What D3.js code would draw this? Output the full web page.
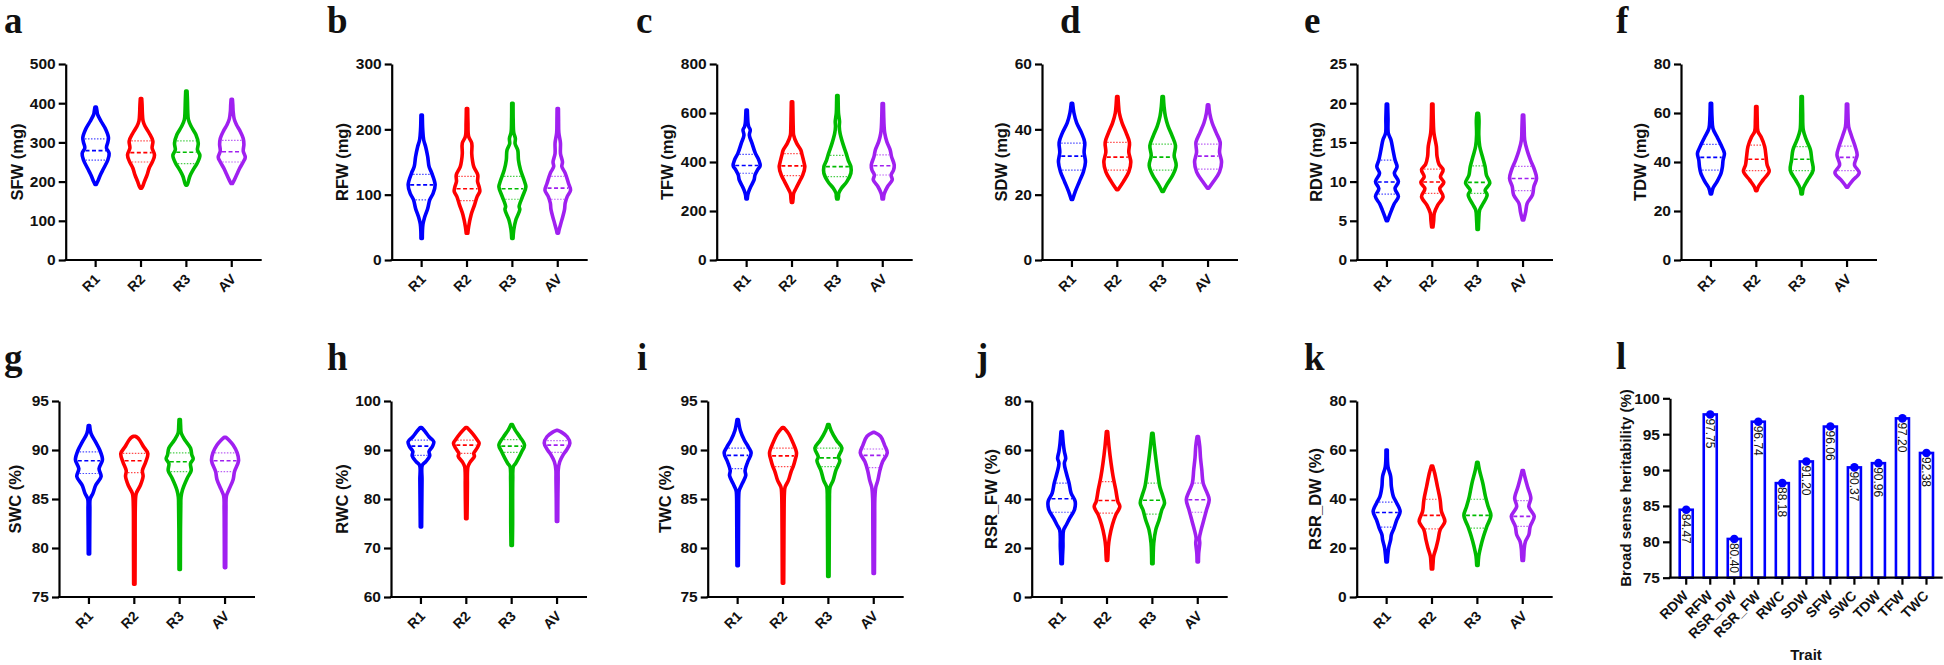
<!DOCTYPE html>
<html><head><meta charset="utf-8">
<script src="https://cdn.jsdelivr.net/npm/d3@7"></script>
<style>
body{margin:0;background:#fff}
text{font-family:"Liberation Sans",Arial,sans-serif}
text.letter{font-family:"Liberation Serif","Times New Roman","DejaVu Serif",serif}
</style>
</head><body>
<svg id="chart" width="1944" height="665"></svg>
<script>
// ---------------- DATA ----------------
const groups = ["R1", "R2", "R3", "AV"];

// violin outlines: [value, relative density] from min to max
const sfwProfiles = [
  [[193,0.05],[200,0.15],[217,0.35],[234,0.6],[255,0.9],[272,1.0],[286,0.8],[300,0.9],[312,0.95],[333,0.75],[354,0.4],[371,0.15],[380,0.1],[390,0.05]],
  [[183,0.05],[190,0.15],[200,0.25],[217,0.45],[234,0.6],[251,0.85],[268,1.0],[286,0.82],[303,0.88],[324,0.6],[341,0.3],[355,0.15],[375,0.1],[395,0.08],[412,0.05]],
  [[191,0.05],[197,0.12],[213,0.25],[230,0.5],[247,0.8],[267,1.0],[281,0.82],[298,0.88],[320,0.7],[341,0.35],[358,0.15],[380,0.1],[405,0.08],[431,0.05]],
  [[195,0.05],[205,0.2],[220,0.4],[235,0.6],[250,0.85],[262,1.0],[278,0.85],[295,0.9],[310,0.85],[330,0.6],[345,0.35],[360,0.18],[380,0.1],[395,0.08],[410,0.05]]
];
const sfwQuartiles = [[255,279,309],[250,274,304],[246,275,304],[250,276,305]];
const sfwTicks = [0,100,200,300,400,500];

const rfwProfiles = [
  [[33,0.05],[45,0.06],[55,0.1],[64,0.2],[79,0.45],[92,0.6],[102,0.85],[115,1.0],[133,0.75],[143,0.55],[158,0.45],[173,0.3],[184,0.15],[200,0.08],[222,0.05]],
  [[41,0.06],[51,0.12],[69,0.3],[84,0.55],[97,0.75],[105,0.95],[112,0.9],[120,0.78],[130,0.8],[143,0.5],[153,0.4],[163,0.35],[179,0.35],[189,0.12],[210,0.07],[232,0.05]],
  [[33,0.05],[46,0.1],[61,0.25],[77,0.55],[82,0.5],[97,0.75],[112,1.0],[120,0.9],[138,0.6],[153,0.45],[168,0.4],[178,0.2],[186,0.22],[195,0.1],[215,0.06],[240,0.05]],
  [[41,0.05],[46,0.1],[61,0.3],[77,0.5],[87,0.55],[97,0.7],[107,0.95],[117,0.8],[133,0.55],[143,0.3],[150,0.35],[163,0.2],[179,0.2],[195,0.08],[215,0.06],[232,0.05]]
];
const rfwQuartiles = [[92,115,131],[91,109,128],[93,109,128],[93,110,128]];
const rfwTicks = [0,100,200,300];

const tfwProfiles = [
  [[249,0.05],[265,0.08],[279,0.15],[299,0.3],[327,0.55],[347,0.62],[367,0.8],[385,1.0],[408,0.9],[435,0.65],[476,0.4],[510,0.2],[531,0.27],[545,0.15],[558,0.1],[585,0.07],[612,0.05]],
  [[235,0.05],[250,0.08],[272,0.12],[293,0.3],[320,0.55],[347,0.8],[381,0.95],[395,0.9],[429,0.75],[449,0.65],[476,0.35],[510,0.12],[540,0.09],[590,0.07],[646,0.05]],
  [[249,0.05],[260,0.08],[272,0.1],[293,0.3],[320,0.7],[354,1.0],[381,1.0],[408,0.8],[435,0.65],[476,0.4],[517,0.2],[545,0.14],[565,0.16],[600,0.08],[640,0.06],[671,0.05]],
  [[249,0.05],[262,0.08],[272,0.12],[299,0.35],[327,0.7],[347,0.62],[367,0.8],[388,0.85],[422,0.65],[449,0.55],[483,0.3],[517,0.15],[545,0.1],[590,0.07],[639,0.05]]
];
const tfwQuartiles = [[354,386,431],[344,384,434],[340,381,427],[347,385,429]];
const tfwTicks = [0,200,400,600,800];

const sdwProfiles = [
  [[18.5,0.05],[21,0.25],[24,0.55],[27,0.85],[30,1.0],[33,0.9],[36,0.95],[39,0.7],[42,0.35],[45,0.15],[48,0.05]],
  [[21.5,0.05],[24,0.45],[27,0.85],[30,1.0],[33,0.85],[36,0.9],[39,0.65],[42,0.35],[45,0.15],[48,0.08],[50,0.05]],
  [[21,0.05],[23,0.3],[26,0.75],[29,1.0],[32,0.85],[35,0.95],[38,0.7],[41,0.4],[44,0.2],[47,0.1],[50,0.05]],
  [[22,0.05],[24,0.4],[27,0.85],[30,1.0],[33,0.85],[36,0.9],[39,0.6],[42,0.3],[45,0.12],[47.5,0.05]]
];
const sdwQuartiles = [[27.5,31.8,35.8],[27.5,31.5,36],[27.5,31.5,35.5],[27.8,31.8,35.5]];
const sdwTicks = [0,20,40,60];

const rdwProfiles = [
  [[5,0.05],[5.5,0.15],[6.4,0.35],[7.2,0.55],[8.1,0.85],[9.1,0.6],[10,0.85],[11.05,0.55],[11.9,0.75],[12.75,0.6],[14,0.45],[15.3,0.3],[16.2,0.1],[18,0.08],[19.9,0.05]],
  [[4.2,0.05],[5,0.1],[6,0.15],[7,0.4],[8.1,0.8],[9.1,0.55],[9.9,0.85],[10.6,0.6],[11.5,0.8],[12.2,0.5],[13.2,0.35],[14.5,0.3],[16.2,0.12],[18,0.07],[19.9,0.05]],
  [[3.9,0.05],[5.1,0.08],[6.4,0.15],[7.2,0.4],[8.3,0.7],[8.9,0.55],[9.8,0.9],[10.8,0.65],[11.9,0.55],[13.2,0.35],[14.5,0.15],[16,0.08],[17.8,0.1],[18.7,0.06]],
  [[5.1,0.05],[5.8,0.15],[6.2,0.2],[7.2,0.3],[8.3,0.7],[9.35,0.8],[10.4,1.0],[11.5,0.85],[12.75,0.55],[14,0.3],[15.3,0.12],[17,0.08],[18.5,0.05]]
];
const rdwQuartiles = [[8.4,9.95,12.75],[8.5,9.95,11.6],[8.5,9.9,12.0],[8.85,10.4,11.95]];
const rdwTicks = [0,5,10,15,20,25];

const tdwProfiles = [
  [[27,0.05],[29.3,0.15],[32,0.45],[35.4,0.75],[38.1,0.85],[40.8,0.9],[43.5,1.0],[46.9,0.75],[50.3,0.45],[53.7,0.15],[58,0.08],[64,0.05]],
  [[28.3,0.05],[29.9,0.15],[32.7,0.5],[36.1,0.95],[38.8,0.8],[42.2,0.72],[46.3,0.62],[50.3,0.35],[52.5,0.12],[57,0.07],[62.6,0.05]],
  [[27,0.05],[29.3,0.12],[32.7,0.45],[36.7,0.85],[40.8,0.75],[44.9,0.65],[49,0.35],[53,0.12],[60,0.07],[66.7,0.05]],
  [[29.7,0.05],[30.6,0.15],[32.7,0.45],[35.6,0.9],[38.8,0.55],[42.9,0.75],[46.3,0.6],[50.3,0.35],[54.4,0.12],[59,0.07],[63.7,0.05]]
];
const tdwQuartiles = [[36.7,41.9,47.2],[36.5,41.1,46.9],[36.5,41.1,46.3],[36.5,41.9,46.5]];
const tdwTicks = [0,20,40,60,80];

const swcProfiles = [
  [[79.4,0.05],[82,0.06],[84,0.07],[85,0.09],[85.6,0.3],[86.4,0.5],[87.3,0.9],[88.1,0.75],[89,1.0],[90,0.8],[90.8,0.5],[91.7,0.15],[92.5,0.05]],
  [[76.3,0.05],[80,0.06],[84,0.07],[85.2,0.1],[85.6,0.15],[86.4,0.45],[87.3,0.65],[87.9,0.6],[88.8,0.85],[89.65,1.0],[90.3,0.7],[91,0.4],[91.3,0.2],[91.4,0.05]],
  [[77.8,0.05],[82,0.06],[84.3,0.08],[85.2,0.1],[85.9,0.2],[87.1,0.55],[87.9,0.85],[88.6,0.8],[89.1,1.0],[89.5,0.9],[90.2,0.8],[91,0.4],[91.7,0.12],[92.5,0.07],[93.1,0.05]],
  [[78,0.05],[82,0.06],[84,0.07],[85.3,0.1],[86,0.3],[87,0.6],[87.8,0.7],[88.9,1.0],[89.7,0.9],[90.5,0.6],[91,0.3],[91.3,0.05]]
];
const swcQuartiles = [[87.6,88.9,89.8],[87.7,88.9,89.65],[87.8,88.8,89.7],[87.8,88.9,89.7]];
const swcTicks = [75,80,85,90,95];

const rwcProfiles = [
  [[74.3,0.05],[78,0.06],[81,0.07],[84,0.08],[86.9,0.1],[87.6,0.35],[88.8,0.65],[89.7,0.6],[90.7,0.85],[91.7,0.95],[92.7,0.6],[93.8,0.3],[94.6,0.05]],
  [[76,0.05],[80,0.07],[83,0.08],[85,0.08],[86.6,0.12],[87.6,0.3],[88.7,0.6],[89.3,0.55],[90.4,0.8],[91.4,0.95],[92.1,0.8],[93.4,0.45],[94.6,0.05]],
  [[70.5,0.05],[75,0.07],[80,0.07],[84,0.08],[86.6,0.12],[87.3,0.3],[88.3,0.5],[89.7,0.75],[91,0.95],[92.7,0.6],[94.1,0.25],[95.2,0.05]],
  [[75.4,0.05],[80,0.06],[84,0.08],[86,0.09],[87.6,0.2],[89,0.45],[90,0.7],[91.4,0.95],[92.7,0.75],[93.6,0.35],[94,0.05]]
];
const rwcQuartiles = [[88.9,90.8,92.0],[89.3,91.0,92.0],[89.5,90.8,92.1],[89.5,91.0,91.9]];
const rwcTicks = [60,70,80,90,100];

const twcProfiles = [
  [[78.2,0.05],[81,0.06],[84,0.07],[85.3,0.08],[85.9,0.12],[86.6,0.35],[87.4,0.6],[87.9,0.55],[88.8,0.75],[89.7,1.0],[90.3,0.8],[91,0.5],[92,0.2],[93.1,0.05]],
  [[76.4,0.05],[79,0.06],[82,0.07],[84,0.08],[85.5,0.1],[86.2,0.15],[86.9,0.4],[87.8,0.6],[88.3,0.75],[89,0.9],[89.7,1.0],[90.7,0.75],[91.7,0.4],[92.3,0.05]],
  [[77.1,0.05],[80,0.06],[83,0.07],[85,0.08],[86.2,0.12],[86.9,0.35],[87.9,0.55],[88.9,0.85],[89.3,0.75],[90.2,1.0],[91,0.6],[92,0.2],[92.6,0.05]],
  [[77.4,0.05],[80,0.06],[83,0.07],[85,0.08],[86.2,0.15],[86.9,0.3],[87.9,0.45],[88.8,0.65],[89.7,1.0],[90.5,0.8],[91.4,0.5],[91.8,0.05]]
];
const twcQuartiles = [[88.1,89.45,90.2],[88.3,89.4,90.2],[88.3,89.2,90.2],[88.2,89.45,90.1]];
const twcTicks = [75,80,85,90,95];

const rsrfwProfiles = [
  [[13.6,0.05],[17,0.07],[20.6,0.1],[24,0.1],[27.4,0.15],[29.5,0.35],[32.2,0.6],[35.6,0.95],[39,1.0],[42.4,0.7],[46.5,0.55],[50.5,0.35],[54.6,0.2],[56.6,0.3],[59.4,0.2],[62.7,0.12],[67.5,0.05]],
  [[14.9,0.05],[18,0.08],[20.6,0.1],[24.7,0.2],[29.5,0.4],[33.5,0.65],[36.9,0.95],[39,0.8],[43.7,0.65],[49.2,0.45],[54.6,0.3],[61.4,0.15],[67.5,0.05]],
  [[13.6,0.05],[17,0.06],[22,0.1],[27.4,0.25],[31.5,0.5],[35.6,0.7],[38.3,0.9],[42.4,0.7],[45.1,0.55],[50.5,0.4],[54.6,0.3],[61.4,0.15],[66.8,0.05]],
  [[14.3,0.05],[17.9,0.07],[22,0.15],[24,0.12],[27.4,0.25],[31.5,0.45],[35.6,0.65],[39.7,0.85],[42.4,0.7],[46.5,0.4],[51.9,0.3],[57,0.2],[61.4,0.15],[65.5,0.05]]
];
const rsrfwQuartiles = [[34.6,40.1,46.5],[34.2,39.4,47.1],[33.8,39.5,46.5],[34.6,39.7,46.5]];
const rsrfwTicks = [0,20,40,60,80];

const rsrdwProfiles = [
  [[14.3,0.05],[16.6,0.08],[20,0.15],[23.4,0.3],[25.4,0.35],[28.1,0.55],[31.5,0.75],[34.9,1.0],[38.3,0.75],[41,0.5],[45.1,0.35],[49.2,0.3],[53.2,0.1],[60,0.05]],
  [[11.4,0.05],[14,0.08],[16.6,0.12],[20,0.3],[23.4,0.45],[27.4,0.6],[30.8,0.95],[34.9,0.7],[39.7,0.6],[45.1,0.4],[50.5,0.2],[53.5,0.05]],
  [[12.9,0.05],[16.6,0.1],[20.6,0.25],[24.7,0.45],[28.8,0.7],[33.3,1.0],[36.9,0.8],[41,0.6],[46.5,0.4],[51.9,0.15],[55,0.05]],
  [[14.9,0.05],[17,0.08],[19.3,0.1],[22.7,0.2],[25.4,0.45],[28.8,0.55],[32.9,0.85],[36.9,0.45],[40.3,0.6],[45.1,0.35],[49.2,0.15],[51.6,0.05]]
];
const rsrdwQuartiles = [[28.5,34.5,38.7],[27.8,33.3,39.9],[28.1,33.3,39.9],[28.8,32.9,39.3]];
const rsrdwTicks = [0,20,40,60,80];

const traits = ["RDW","RFW","RSR_DW","RSR_FW","RWC","SDW","SFW","SWC","TDW","TFW","TWC"];
const heritability = [84.47,97.75,80.40,96.74,88.18,91.20,96.06,90.37,90.96,97.20,92.38];
const heritTicks = [75,80,85,90,95,100];

// ---------------- STYLE / LAYOUT ----------------
const groupColors = ["#0000ff","#ff0000","#00bb00","#a020f0"];
const HW = 13.5;           // max half width of a violin (px)
const AXIS_W = 196;        // x axis length per violin panel
const rows = [{top:64, bottom:260, letterY:33}, {top:401, bottom:597, letterY:370}];

const panels = [
  {letter:"a", title:"SFW (mg)",    prof:sfwProfiles,   q:sfwQuartiles,   ticks:sfwTicks,   row:0, ax:65.7,  lx:4,    toff:49},
  {letter:"b", title:"RFW (mg)",    prof:rfwProfiles,   q:rfwQuartiles,   ticks:rfwTicks,   row:0, ax:391.7, lx:327,  toff:50},
  {letter:"c", title:"TFW (mg)",    prof:tfwProfiles,   q:tfwQuartiles,   ticks:tfwTicks,   row:0, ax:716.7, lx:636,  toff:50},
  {letter:"d", title:"SDW (mg)",    prof:sdwProfiles,   q:sdwQuartiles,   ticks:sdwTicks,   row:0, ax:1042,  lx:1060, toff:41},
  {letter:"e", title:"RDW (mg)",    prof:rdwProfiles,   q:rdwQuartiles,   ticks:rdwTicks,   row:0, ax:1357,  lx:1304, toff:41},
  {letter:"f", title:"TDW (mg)",    prof:tdwProfiles,   q:tdwQuartiles,   ticks:tdwTicks,   row:0, ax:1681,  lx:1616, toff:41},
  {letter:"g", title:"SWC (%)",     prof:swcProfiles,   q:swcQuartiles,   ticks:swcTicks,   row:1, ax:59,    lx:4,    toff:44},
  {letter:"h", title:"RWC (%)",     prof:rwcProfiles,   q:rwcQuartiles,   ticks:rwcTicks,   row:1, ax:391,   lx:327,  toff:49},
  {letter:"i", title:"TWC (%)",     prof:twcProfiles,   q:twcQuartiles,   ticks:twcTicks,   row:1, ax:707.7, lx:637,  toff:43},
  {letter:"j", title:"RSR_FW (%)",  prof:rsrfwProfiles, q:rsrfwQuartiles, ticks:rsrfwTicks, row:1, ax:1031.7,lx:976,  toff:41},
  {letter:"k", title:"RSR_DW (%)",  prof:rsrdwProfiles, q:rsrdwQuartiles, ticks:rsrdwTicks, row:1, ax:1356.7,lx:1304, toff:42}
];

const svg = d3.select("#chart");

function densAt(prof, v){
  for (let i = 0; i < prof.length - 1; i++){
    const a = prof[i], b = prof[i+1];
    if (v >= a[0] && v <= b[0]){
      const t = (v - a[0]) / (b[0] - a[0]);
      return a[1] + (b[1] - a[1]) * t;
    }
  }
  return 0;
}

function panelLetter(x, y, t){
  svg.append("text").attr("class","letter").attr("x", x).attr("y", y)
    .style("font-size","37px").style("font-weight","bold")
    .attr("fill","#111").text(t);
}

function yAxis(g, y, ticks, x){
  const ax = g.append("g").attr("transform", `translate(${x},0)`)
    .call(d3.axisLeft(y).tickValues(ticks).tickSize(7).tickPadding(3).tickSizeOuter(0));
  ax.select(".domain").attr("stroke","#000").attr("stroke-width",2.2);
  ax.selectAll(".tick line").attr("stroke","#000").attr("stroke-width",2.2);
  ax.selectAll(".tick text").attr("font-size",15.5).attr("font-weight","bold")
    .attr("fill","#111").attr("font-family","Liberation Sans, Arial, sans-serif");
  return ax;
}

function xAxis(g, x, cats, axisY, x0, x1, fs, dx, dy){
  g.append("line").attr("x1",x0-1.1).attr("x2",x1).attr("y1",axisY).attr("y2",axisY)
    .attr("stroke","#000").attr("stroke-width",2.2);
  cats.forEach(c => {
    const cx = x(c);
    g.append("line").attr("x1",cx).attr("x2",cx).attr("y1",axisY).attr("y2",axisY+7)
      .attr("stroke","#000").attr("stroke-width",2.2);
    g.append("text").attr("transform",`translate(${cx+dx},${axisY+dy}) rotate(-45)`)
      .attr("text-anchor","end").attr("font-size",fs).attr("font-weight","bold")
      .attr("fill","#111").text(c);
  });
}

panels.forEach(p => {
  const r = rows[p.row];
  const g = svg.append("g");
  const y = d3.scaleLinear().domain([p.ticks[0], p.ticks[p.ticks.length-1]]).range([r.bottom, r.top]);
  const x = d3.scalePoint().domain(groups).range([p.ax, p.ax + AXIS_W]).padding(0.66);

  panelLetter(p.lx, r.letterY, p.letter);

  yAxis(g, y, p.ticks, p.ax);
  xAxis(g, x, groups, r.bottom, p.ax, p.ax + AXIS_W, 14, 5, 20);

  g.append("text").attr("transform", `translate(${p.ax - p.toff},${(r.top + r.bottom)/2}) rotate(-90)`)
    .attr("text-anchor","middle").attr("dominant-baseline","central")
    .attr("font-size",16.5).attr("font-weight","bold").attr("fill","#111").text(p.title);

  groups.forEach((grp, i) => {
    const cx = x(grp);
    const prof = p.prof[i];
    const col = groupColors[i];
    const area = d3.area().curve(d3.curveCatmullRom.alpha(0.5))
      .y(d => y(d[0])).x0(d => cx - d[1]*HW).x1(d => cx + d[1]*HW);
    g.append("path").attr("d", area(prof)).attr("fill","#fff").attr("stroke",col)
      .attr("stroke-width",3.6).attr("stroke-linejoin","round").attr("stroke-linecap","round");
    p.q[i].forEach((v, k) => {
      const w = Math.max(densAt(prof, v)*HW - 2, 1);
      g.append("line").attr("x1", cx - w).attr("x2", cx + w).attr("y1", y(v)).attr("y2", y(v))
        .attr("stroke", col)
        .attr("stroke-width", k === 1 ? 1.6 : 1.2)
        .attr("stroke-dasharray", k === 1 ? "4,2.5" : "1.5,1.5")
        .attr("opacity", k === 1 ? 1 : 0.7);
    });
  });
});

// ---------------- Panel l: heritability bars ----------------
{
  const ax = 1670, top = 398.3, bottom = 577.7, w = 272.7;
  const g = svg.append("g");
  const y = d3.scaleLinear().domain([heritTicks[0], heritTicks[heritTicks.length-1]]).range([bottom, top]);
  const x = d3.scalePoint().domain(traits).range([ax, ax + w]).padding(0.675);

  panelLetter(1616, 369, "l");

  const bw = 13;
  traits.forEach((t, i) => {
    const cx = x(t), v = heritability[i];
    g.append("rect").attr("x", cx - bw/2).attr("y", y(v)).attr("width", bw).attr("height", y(heritTicks[0]) - y(v))
      .attr("fill","#fff").attr("stroke","#0000ff").attr("stroke-width",2.6);
    g.append("circle").attr("cx", cx).attr("cy", y(v)).attr("r", 4.3).attr("fill","#0000ff");
    g.append("text").attr("transform", `translate(${cx},${y(v)+4}) rotate(90)`)
      .attr("text-anchor","start").attr("dominant-baseline","central")
      .attr("font-size",12).attr("fill","#111").text(v.toFixed(2));
  });

  yAxis(g, y, heritTicks, ax);
  xAxis(g, x, traits, bottom, ax, ax + w, 14, 3, 19);

  g.append("text").attr("transform", `translate(${ax - 45},${(top + bottom)/2}) rotate(-90)`)
    .attr("text-anchor","middle").attr("dominant-baseline","central")
    .attr("font-size",15).attr("font-weight","bold").attr("fill","#111").text("Broad sense heritability (%)");

  g.append("text").attr("x", 1806).attr("y", 660).attr("text-anchor","middle")
    .attr("font-size",15).attr("font-weight","bold").attr("fill","#111").text("Trait");
}
</script>
</body></html>
